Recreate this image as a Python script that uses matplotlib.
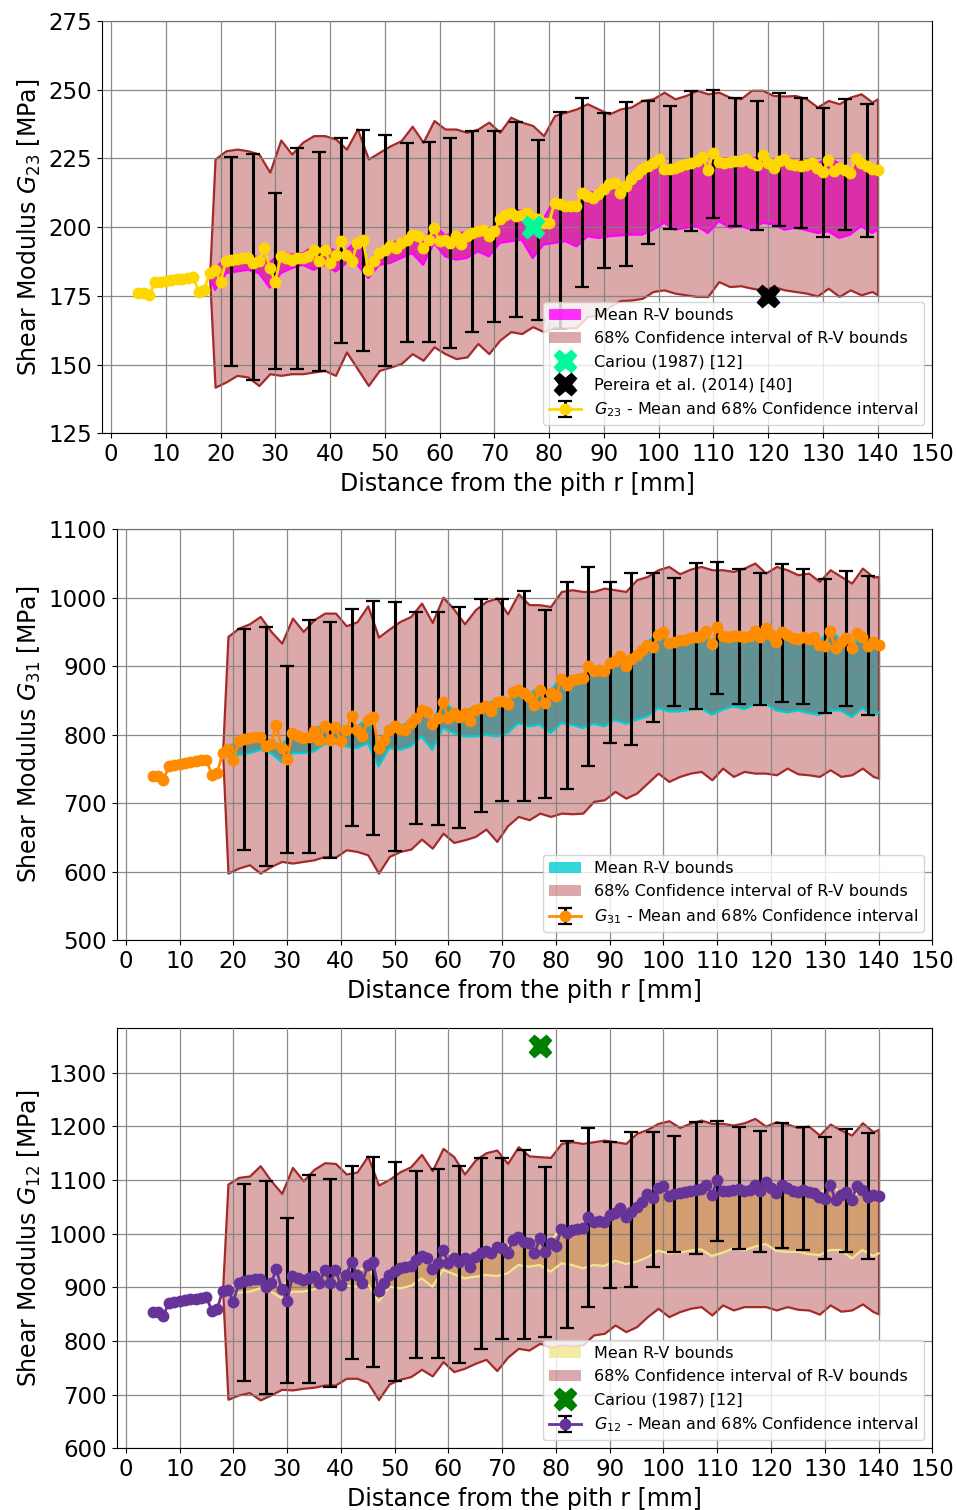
import numpy as np
import matplotlib
matplotlib.use("Agg")
import matplotlib.pyplot as plt
from matplotlib.patches import Patch

plt.rcParams['font.family'] = 'DejaVu Sans'
plt.rcParams['font.size'] = 17
plt.rcParams['xtick.labelsize'] = 16.5
plt.rcParams['ytick.labelsize'] = 16.5

# Radial positions (mm)
r_mean = np.arange(5, 141)                       # mean curve, every mm
r_bnd = np.r_[18, np.arange(19, 140, 2), 140]    # R-V bounds / confidence band
err_start, err_step = 17, 4                      # error bars at r = 22, 26, ..., 138

# ---------------- G23 ----------------
g23_mean = [176.2, 176.0, 175.4, 179.9, 180.2, 180.6, 180.9, 181.1, 181.3, 181.6,
            181.8, 176.6, 177.2, 183.3, 184.5, 180.2, 187.6, 188.2, 188.4, 188.8,
            188.8, 187.0, 187.6, 192.4, 185.1, 180.2, 189.4, 188.8, 188.2, 188.8,
            188.8, 189.4, 191.8, 187.6, 191.8, 187.0, 190.0, 194.9, 190.0, 187.6,
            194.3, 195.5, 184.5, 187.6, 190.6, 191.8, 193.0, 192.4, 194.3, 195.5,
            197.3, 196.7, 192.4, 195.5, 199.8, 194.9, 195.5, 194.3, 196.7, 193.7,
            196.7, 197.9, 198.5, 199.1, 196.7, 198.5, 202.8, 204.6, 205.2, 204.0,
            204.6, 205.2, 203.4, 202.8, 201.6, 201.6, 208.9, 208.3, 207.7, 207.7,
            207.7, 212.6, 211.3, 210.7, 212.0, 213.8, 215.6, 216.2, 212.6, 215.0,
            217.4, 219.3, 221.1, 222.3, 223.5, 224.8, 221.1, 221.3, 221.7, 222.3,
            222.9, 223.3, 224.1, 225.4, 220.9, 227.0, 223.8, 223.5, 223.8, 224.1,
            224.1, 224.8, 223.5, 222.6, 226.2, 223.5, 221.7, 224.1, 224.8, 222.9,
            222.6, 222.3, 222.6, 223.3, 221.7, 219.9, 224.6, 220.5, 221.7, 220.9,
            219.6, 225.0, 223.5, 222.1, 221.3, 220.9]
g23_rv_lo = [182.0, 177.2, 183.3, 183.9, 184.5, 183.3, 178.0, 183.3, 185.1, 186.3,
             184.5, 186.3, 183.9, 187.0, 186.3, 181.5, 186.3, 187.0, 188.8, 190.6,
             186.3, 194.3, 189.4, 188.2, 188.8, 191.2, 189.4, 194.3, 194.9, 195.5,
             188.8, 193.7, 194.3, 194.9, 193.0, 196.7, 196.1, 196.7, 197.0, 197.3,
             197.3, 199.1, 201.6, 199.1, 199.8, 200.4, 197.9, 202.2, 199.8, 200.4,
             199.1, 201.6, 201.0, 199.1, 199.8, 198.9, 197.9, 198.5, 196.1, 197.3,
             200.4, 197.9, 199.1]
g23_rv_hi = [183.0, 185.0, 189.0, 189.5, 190.0, 189.0, 187.0, 191.0, 190.0, 190.5,
             193.0, 193.0, 191.5, 191.5, 195.5, 186.0, 192.0, 194.0, 195.5, 198.5,
             194.0, 201.0, 197.0, 198.0, 198.0, 199.5, 198.0, 204.0, 206.5, 206.0,
             205.0, 203.0, 210.0, 209.0, 209.0, 212.5, 213.0, 217.0, 214.0, 218.5,
             222.0, 224.5, 222.5, 223.0, 224.0, 225.5, 222.5, 225.0, 225.0, 225.5,
             224.5, 227.0, 223.0, 226.0, 224.0, 224.0, 223.0, 225.5, 223.0, 221.0,
             224.5, 222.5, 222.0]
g23_ci_lo = [182.0, 141.8, 143.7, 146.1, 145.5, 142.4, 146.7, 146.1, 146.7, 146.7,
             147.3, 147.9, 146.1, 154.6, 148.5, 142.4, 147.9, 149.1, 150.4, 154.0,
             151.6, 156.5, 154.0, 152.2, 152.8, 157.7, 154.0, 158.9, 162.0, 161.3,
             163.8, 162.0, 163.5, 163.3, 163.5, 167.5, 168.0, 171.0, 173.3, 173.5,
             174.1, 176.6, 177.2, 176.0, 175.4, 174.8, 174.8, 180.2, 178.4, 178.7,
             177.8, 177.2, 178.4, 177.2, 176.6, 176.0, 175.0, 177.8, 174.8, 177.2,
             175.4, 176.6, 175.4]
g23_ci_hi = [182.0, 224.8, 227.8, 228.4, 227.8, 226.6, 220.0, 231.7, 226.6, 230.9,
             233.3, 233.3, 232.1, 228.4, 235.7, 224.8, 227.2, 229.6, 231.5, 236.7,
             230.9, 238.8, 235.7, 235.7, 234.5, 235.7, 238.2, 234.5, 240.0, 238.2,
             237.0, 233.3, 240.6, 241.8, 243.0, 244.9, 243.0, 241.2, 243.0, 243.7,
             246.1, 246.7, 249.1, 246.7, 247.9, 249.8, 248.5, 249.1, 247.3, 246.7,
             249.8, 249.8, 247.9, 247.7, 247.9, 246.7, 243.7, 246.1, 244.9, 247.3,
             248.5, 245.5, 246.7]
g23_err_lo = [149.4, 144.5, 148.3, 148.3, 147.6, 157.9, 155.0, 149.4, 158.3, 158.2,
              156.2, 161.8, 165.6, 167.4, 166.2, 163.0, 178.2, 185.1, 185.7, 193.7,
              199.4, 198.5, 203.4, 200.4, 199.1, 200.6, 199.8, 196.5, 199.1, 196.5]
g23_err_hi = [225.7, 226.6, 212.3, 228.7, 227.4, 232.3, 235.4, 233.7, 230.6, 231.1,
              232.3, 235.0, 235.1, 238.2, 231.7, 241.8, 247.0, 241.7, 245.5, 245.9,
              244.0, 249.4, 249.8, 247.0, 245.9, 248.9, 247.0, 243.3, 246.5, 244.9]

# ---------------- G31 ----------------
g31_mean = [739.2, 739.2, 733.3, 754.7, 756.2, 757.7, 758.6, 759.6, 761.1, 762.5,
            763.5, 741.6, 744.0, 773.2, 779.1, 762.5, 790.3, 793.7, 795.1, 796.1,
            796.6, 783.0, 786.9, 814.6, 780.5, 764.5, 802.4, 797.6, 795.1, 796.6,
            804.9, 792.7, 812.2, 792.7, 811.2, 790.3, 807.3, 826.8, 807.3, 797.6,
            821.9, 825.8, 780.5, 792.7, 807.3, 813.1, 808.3, 807.3, 817.0, 824.3,
            836.5, 832.6, 816.1, 824.3, 847.2, 824.3, 831.6, 825.8, 831.6, 819.5,
            836.5, 838.9, 841.4, 834.0, 847.2, 848.7, 845.0, 861.8, 865.7, 860.8,
            855.0, 843.8, 865.7, 846.2, 860.8, 856.0, 881.3, 873.0, 880.3, 881.3,
            882.7, 899.8, 892.5, 893.9, 892.5, 904.6, 907.1, 914.4, 899.8, 910.5,
            916.8, 924.1, 931.4, 927.5, 946.0, 949.9, 933.8, 934.8, 937.7, 938.7,
            941.1, 942.6, 943.6, 950.9, 932.8, 957.2, 943.6, 942.6, 943.6, 944.5,
            942.6, 943.6, 950.9, 942.6, 955.7, 946.0, 934.8, 949.4, 946.0, 941.1,
            939.7, 942.6, 939.7, 942.6, 931.4, 929.0, 950.9, 926.5, 934.8, 941.1,
            926.5, 948.4, 942.6, 929.9, 934.8, 931.4]
g31_rv_lo = [774.0, 768.4, 770.8, 773.2, 778.1, 773.2, 760.0, 773.2, 773.2, 775.7,
             786.9, 787.8, 783.0, 780.5, 787.8, 753.8, 780.5, 778.1, 783.0, 797.6,
             778.1, 809.7, 802.4, 797.6, 797.6, 800.0, 797.6, 802.4, 817.0, 812.2,
             814.6, 802.4, 817.0, 814.6, 809.7, 816.1, 812.2, 821.9, 816.1, 821.9,
             826.8, 838.9, 834.1, 834.1, 836.5, 838.9, 829.2, 836.5, 841.4, 837.5,
             843.8, 845.2, 835.5, 832.6, 835.5, 831.6, 829.2, 835.5, 835.5, 825.8,
             838.9, 827.7, 832.6]
g31_rv_hi = [775.0, 781.0, 793.0, 797.0, 799.0, 790.0, 784.0, 806.0, 798.0, 808.0,
             815.0, 814.0, 811.0, 811.0, 825.0, 785.0, 811.0, 812.0, 820.0, 840.0,
             820.0, 851.0, 835.0, 835.0, 840.0, 845.0, 851.0, 850.0, 869.0, 860.0,
             869.0, 864.0, 885.0, 884.0, 886.0, 896.0, 896.0, 911.0, 904.0, 920.0,
             935.0, 949.0, 937.0, 941.0, 944.0, 947.0, 936.0, 947.0, 947.0, 946.0,
             954.0, 959.0, 938.0, 949.0, 943.0, 943.0, 935.0, 954.0, 938.0, 930.0,
             946.0, 938.0, 934.0]
g31_ci_lo = [774.0, 598.0, 605.4, 610.2, 598.0, 607.8, 615.1, 612.7, 615.1, 617.5,
             622.4, 621.4, 632.1, 629.7, 624.8, 598.0, 622.4, 629.7, 633.1, 647.7,
             634.5, 656.4, 642.8, 646.7, 651.6, 662.3, 644.3, 667.2, 680.8, 676.0,
             685.6, 680.8, 685.6, 684.7, 685.6, 702.7, 705.1, 717.3, 707.5, 714.8,
             729.4, 744.0, 731.9, 739.2, 744.0, 746.5, 734.3, 751.3, 739.2, 746.5,
             744.0, 744.0, 741.6, 751.3, 743.0, 741.6, 739.2, 748.9, 739.2, 741.6,
             751.3, 739.2, 736.7]
g31_ci_hi = [774.0, 943.6, 955.7, 962.0, 972.7, 950.9, 933.8, 970.3, 950.9, 967.9,
             977.6, 977.6, 959.1, 965.0, 988.3, 942.6, 954.3, 965.5, 972.7, 992.2,
             964.0, 1001.0, 983.5, 962.0, 982.5, 994.6, 999.5, 976.6, 1005.8, 990.0,
             989.8, 987.3, 1009.2, 1011.7, 1009.2, 1009.2, 1014.1, 1011.7, 1009.2, 1026.3,
             1031.1, 1040.9, 1045.7, 1035.0, 1041.8, 1045.7, 1040.9, 1040.9, 1038.4, 1043.3,
             1050.6, 1036.0, 1045.7, 1040.9, 1033.6, 1036.0, 1023.8, 1040.9, 1031.1, 1021.4,
             1043.3, 1030.2, 1031.1]
g31_err_lo = [632.1, 607.8, 627.3, 627.3, 620.0, 667.2, 654.0, 629.7, 670.1, 668.6,
              663.7, 686.6, 702.7, 702.7, 707.5, 720.7, 754.7, 787.8, 784.4, 818.0,
              842.3, 837.5, 859.4, 845.3, 842.8, 847.2, 844.8, 831.6, 841.4, 829.2]
g31_err_hi = [954.7, 957.2, 899.8, 967.9, 964.0, 983.5, 994.6, 994.2, 979.1, 978.6,
              986.4, 998.0, 998.0, 1009.2, 982.5, 1022.4, 1044.3, 1022.4, 1036.0, 1036.0,
              1028.7, 1050.6, 1051.6, 1041.8, 1036.0, 1049.6, 1041.8, 1027.3, 1038.4, 1032.1]

# ---------------- G12 ----------------
g12_mean = [854.7, 854.0, 847.2, 871.4, 873.3, 874.5, 876.4, 877.6, 878.9, 880.1,
            881.4, 856.5, 859.0, 893.8, 895.0, 873.3, 907.5, 912.4, 913.7, 914.9,
            914.9, 900.0, 907.5, 933.5, 896.3, 874.5, 921.1, 916.8, 913.7, 916.8,
            921.1, 908.7, 932.3, 908.7, 932.3, 904.3, 923.0, 947.8, 923.0, 908.7,
            941.6, 947.8, 893.8, 907.5, 923.0, 931.1, 935.4, 937.3, 939.8, 950.9,
            958.4, 954.0, 933.5, 944.7, 969.6, 944.7, 954.0, 947.8, 954.0, 937.3,
            957.1, 963.4, 968.3, 963.4, 975.8, 972.7, 963.4, 988.2, 994.4, 985.0,
            983.0, 963.4, 991.3, 966.5, 983.2, 977.0, 1008.0, 1000.6, 1006.8, 1008.0,
            1009.9, 1030.4, 1022.4, 1024.2, 1022.4, 1034.8, 1037.9, 1047.2, 1030.4, 1041.0,
            1050.3, 1059.6, 1073.9, 1065.8, 1084.5, 1088.8, 1070.2, 1073.9, 1076.4, 1078.3,
            1080.1, 1081.4, 1082.6, 1090.7, 1072.0, 1100.0, 1080.1, 1080.1, 1081.4, 1082.6,
            1080.1, 1081.4, 1090.7, 1080.1, 1096.9, 1084.5, 1075.2, 1090.7, 1084.5, 1080.1,
            1078.3, 1081.4, 1078.3, 1076.4, 1068.9, 1064.0, 1090.7, 1062.7, 1072.0, 1078.3,
            1062.7, 1088.8, 1081.4, 1068.9, 1072.0, 1070.8]
g12_rv_lo = [894.0, 887.6, 890.1, 891.9, 898.1, 891.9, 880.0, 891.9, 891.9, 896.3,
             907.5, 908.7, 902.5, 901.2, 907.5, 873.3, 901.2, 898.1, 902.5, 916.8,
             901.2, 932.3, 924.8, 916.8, 919.9, 923.0, 921.1, 926.1, 941.6, 938.5,
             941.6, 929.2, 944.7, 941.6, 935.4, 941.6, 939.8, 949.7, 943.5, 947.8,
             955.9, 968.3, 963.4, 964.6, 968.3, 970.8, 958.4, 964.6, 972.7, 969.0,
             975.8, 980.7, 968.0, 966.0, 966.5, 962.0, 960.2, 969.6, 969.6, 954.0,
             969.6, 958.4, 963.4]
g12_rv_hi = [895.0, 897.0, 910.0, 916.0, 917.0, 910.0, 900.0, 924.0, 916.0, 924.0,
             934.0, 934.0, 926.0, 926.0, 944.0, 897.0, 926.0, 938.0, 942.0, 961.0,
             937.0, 972.0, 957.0, 957.0, 960.0, 971.0, 978.0, 975.0, 997.0, 988.0,
             994.0, 986.0, 1011.0, 1010.0, 1012.0, 1025.0, 1025.0, 1041.0, 1034.0, 1053.0,
             1076.0, 1087.0, 1073.0, 1079.0, 1083.0, 1085.0, 1075.0, 1083.0, 1084.0, 1083.0,
             1093.0, 1099.0, 1078.0, 1087.0, 1081.0, 1081.0, 1072.0, 1093.0, 1075.0, 1066.0,
             1084.0, 1075.0, 1073.0]
g12_ci_lo = [895.0, 691.3, 699.4, 703.7, 690.1, 699.4, 709.9, 708.7, 711.8, 713.7,
             718.0, 718.0, 730.4, 730.4, 722.4, 690.7, 720.0, 728.6, 733.5, 747.2,
             734.8, 761.5, 742.9, 749.1, 758.4, 765.8, 744.7, 769.6, 786.3, 783.0,
             795.7, 788.2, 792.5, 790.7, 792.5, 811.2, 814.3, 829.8, 817.4, 826.7,
             845.3, 860.9, 845.3, 854.7, 860.9, 864.0, 848.4, 867.1, 857.8, 864.0,
             864.0, 864.0, 857.8, 864.0, 859.0, 857.8, 850.0, 867.1, 855.5, 857.8,
             869.0, 854.7, 850.5]
g12_ci_hi = [895.0, 1092.5, 1105.0, 1107.5, 1126.7, 1098.8, 1075.2, 1123.6, 1098.8, 1119.9,
             1132.3, 1131.0, 1111.2, 1115.0, 1144.7, 1090.7, 1101.2, 1115.5, 1124.8, 1147.8,
             1117.4, 1159.0, 1143.5, 1111.2, 1137.3, 1150.9, 1155.9, 1131.0, 1162.1, 1145.0,
             1143.5, 1142.2, 1168.3, 1171.4, 1168.3, 1171.4, 1174.5, 1171.4, 1168.3, 1187.0,
             1194.4, 1205.6, 1210.6, 1198.1, 1206.0, 1211.8, 1205.6, 1205.6, 1202.5, 1206.8,
             1214.9, 1200.6, 1208.7, 1204.3, 1198.1, 1200.6, 1183.9, 1204.3, 1193.2, 1183.9,
             1206.8, 1190.1, 1194.4]
g12_err_lo = [725.5, 701.2, 721.1, 721.1, 714.9, 765.8, 752.2, 725.5, 768.3, 767.7,
              758.4, 785.1, 803.1, 803.1, 806.8, 823.6, 864.0, 898.1, 901.2, 938.5,
              966.5, 962.1, 987.0, 970.8, 966.5, 973.9, 969.6, 952.2, 965.2, 952.2]
g12_err_hi = [1092.5, 1098.8, 1029.8, 1108.7, 1101.9, 1126.1, 1142.2, 1132.9, 1117.4, 1119.9,
              1126.1, 1140.4, 1140.4, 1155.9, 1124.8, 1173.3, 1196.3, 1171.4, 1190.1, 1190.1,
              1182.6, 1208.7, 1209.9, 1198.1, 1191.9, 1206.8, 1198.1, 1179.5, 1194.4, 1187.0]

# Reference values from the literature: (r, G)
cariou_g23 = (77, 200)
pereira_g23 = (120, 175)
cariou_g12 = (77, 1350)


def dibujar_panel(ax, media, rv_lo, rv_hi, ci_lo, ci_hi, err_lo, err_hi,
                  color_media, color_rv, nombre, referencias, ylim, yticks):
    """Draws one shear-modulus panel: R-V bounds, confidence band and mean."""
    media = np.asarray(media)

    # Mean R-V bounds (drawn first, the band goes over it)
    ax.fill_between(r_bnd, rv_lo, rv_hi, facecolor=color_rv, alpha=0.8,
                    linewidth=0, zorder=1)
    # 68% confidence interval of the bounds
    ax.fill_between(r_bnd, ci_lo, ci_hi, facecolor=(0.647, 0.165, 0.165, 0.4),
                    edgecolor='brown', linewidth=1.6, zorder=2)
    ax.plot(r_bnd, rv_lo, color=color_rv, lw=1.6, zorder=3)
    ax.plot(r_bnd, rv_hi, color=color_rv, lw=1.6, zorder=3)

    # Asymmetric error bars only every 4 mm
    idx = np.arange(err_start, len(r_mean), err_step)
    abajo = np.zeros(len(media))
    arriba = np.zeros(len(media))
    abajo[idx] = media[idx] - np.asarray(err_lo)
    arriba[idx] = np.asarray(err_hi) - media[idx]
    eb = ax.errorbar(r_mean, media, yerr=[abajo, arriba],
                     errorevery=(err_start, err_step), fmt='-o', color=color_media,
                     ms=7.5, lw=2, ecolor='black', elinewidth=2.2, capsize=5,
                     capthick=1.6, zorder=4,
                     label=rf'$G_{{{nombre}}}$ - Mean and 68% Confidence interval')

    handles = [Patch(facecolor=color_rv, alpha=0.8, label='Mean R-V bounds'),
               Patch(facecolor='brown', alpha=0.4,
                     label='68% Confidence interval of R-V bounds')]
    for (rx, gy), col, etiqueta in referencias:
        h, = ax.plot(rx, gy, 'X', color=col, ms=16, linestyle='none', zorder=6,
                     label=etiqueta)
        handles.append(h)
    handles.append(eb)

    ax.set_xlim(-1.7, 150)
    ax.set_xticks(np.arange(0, 151, 10))
    ax.set_ylim(*ylim)
    ax.set_yticks(yticks)
    ax.grid(True, color='grey', linewidth=0.9, alpha=0.9)
    ax.set_axisbelow(False)
    ax.set_xlabel('Distance from the pith r [mm]')
    ax.set_ylabel(rf'Shear Modulus $G_{{{nombre}}}$ [MPa]')
    ax.legend(handles=handles, loc='lower right', fontsize=11.5)


fig = plt.figure(figsize=(9.57, 15.10), dpi=100)
ax1 = fig.add_axes([0.1063, 0.7130, 0.8679, 0.2731])
ax2 = fig.add_axes([0.1219, 0.3773, 0.8523, 0.2722])
ax3 = fig.add_axes([0.1219, 0.0409, 0.8523, 0.2785])

dibujar_panel(ax1, g23_mean, g23_rv_lo, g23_rv_hi, g23_ci_lo, g23_ci_hi,
              g23_err_lo, g23_err_hi, 'gold', 'magenta', '23',
              [(cariou_g23, 'mediumspringgreen', 'Cariou (1987) [12]'),
               (pereira_g23, 'black', 'Pereira et al. (2014) [40]')],
              (125, 275), np.arange(125, 276, 25))
dibujar_panel(ax2, g31_mean, g31_rv_lo, g31_rv_hi, g31_ci_lo, g31_ci_hi,
              g31_err_lo, g31_err_hi, 'darkorange', 'darkturquoise', '31',
              [], (500, 1100), np.arange(500, 1101, 100))
dibujar_panel(ax3, g12_mean, g12_rv_lo, g12_rv_hi, g12_ci_lo, g12_ci_hi,
              g12_err_lo, g12_err_hi, 'rebeccapurple', 'khaki', '12',
              [(cariou_g12, 'green', 'Cariou (1987) [12]')],
              (600, 1384), np.arange(600, 1301, 100))

fig.savefig('out.png', dpi=100)
